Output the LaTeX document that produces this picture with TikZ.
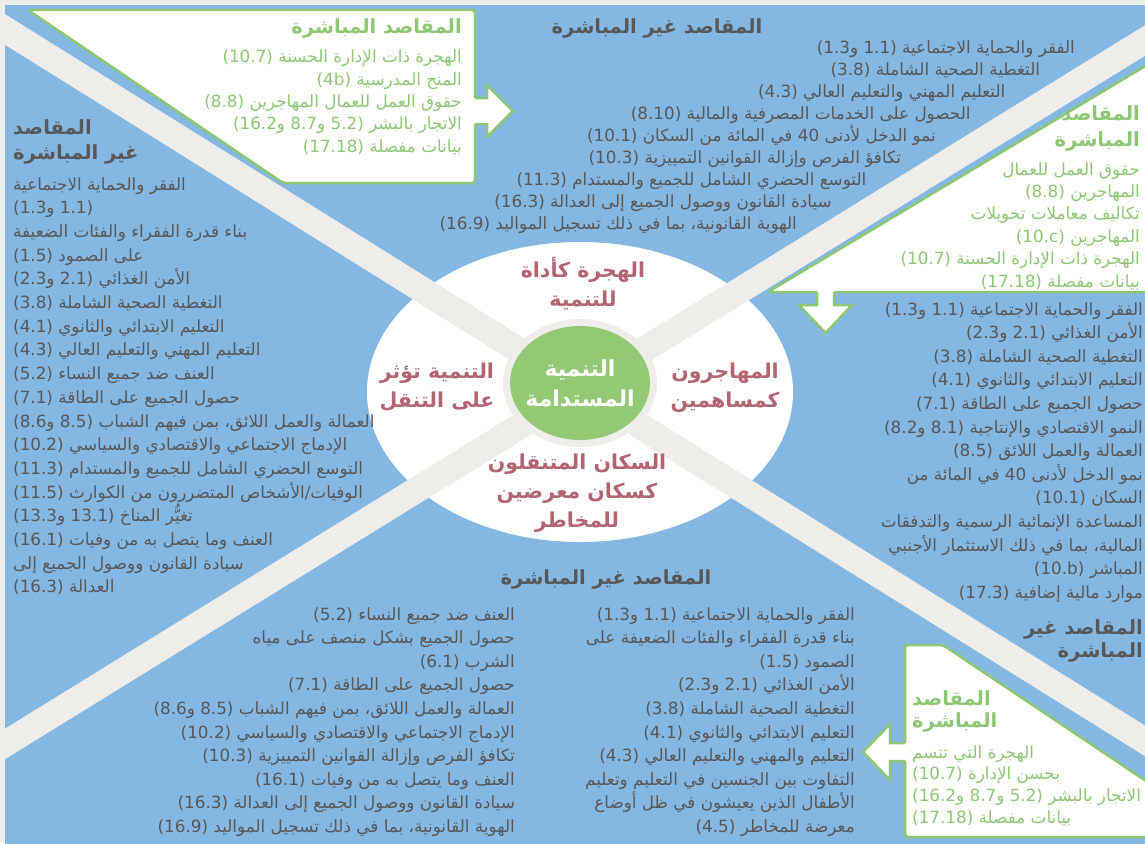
\documentclass[tikz,border=0pt]{standalone}
\usepackage{fontspec}
\TeXXeTstate=1
\newfontfamily\ar[Script=Arabic]{DejaVu Sans}
\newfontfamily\nf{DejaVu Sans}
\newcommand\NN[1]{\hbox{\beginL\nf #1\endL}}
\newcommand\PP[2]{\hbox{\beginL\nf(#2\hbox{\ar و} #1)\endL}}
\newcommand\PPP[3]{\hbox{\beginL\nf(#3\hbox{\ar و} #2\hbox{\ar و} #1)\endL}}
\definecolor{qblue}{RGB}{132,183,226}
\definecolor{band}{RGB}{238,237,233}
\definecolor{gline}{RGB}{141,199,115}
\definecolor{gtext}{RGB}{141,199,115}
\definecolor{gcirc}{RGB}{147,201,117}
\definecolor{dtext}{RGB}{88,88,88}
\definecolor{rose}{RGB}{178,100,112}
\tikzset{
  body/.style={font=\ar\fontsize{16.8}{19}\selectfont, text=dtext, inner sep=0pt},
  gbody/.style={body, text=gtext},
  ttl/.style={font=\ar\bfseries\fontsize{19.5}{22}\selectfont, text=dtext, inner sep=0pt},
  gttl/.style={ttl, text=gtext},
  lab/.style={font=\ar\bfseries\fontsize{20.5}{29}\selectfont, text=rose, inner sep=0pt, align=center},
  boxst/.style={fill=white, draw=gline, line width=2.5pt, rounded corners=3pt, line join=round},
  arrline/.style={draw=gline, line width=2.5pt, line join=miter},
  bandst/.style={draw=band, line width=26pt},
}
\begin{document}
\begin{tikzpicture}[x=1pt,y=-1pt]
\useasboundingbox (0,0) rectangle (1145,843);
% background
\fill[band] (0,0) rectangle (1145,843);
\fill[qblue] (5,5) rectangle (1150,850);
% central ellipse
\fill[white] (580,392) ellipse [x radius=213, y radius=150];
% bands
\draw[bandst] (-30,7.6) -- (1175,759.6);
\draw[bandst] (1175,22) -- (-30,765.5);
% core circle
\fill[band] (580,383) ellipse [x radius=77, y radius=64];
\fill[gcirc] (580,383) ellipse [x radius=70, y radius=57];

% box 1 (top left) with right arrow
\path[boxst] (28,10) -- (475,10) -- (475,183) -- (283,183) -- cycle;
\fill[white] (471,98) -- (487,98) -- (487,85) -- (513,111) -- (487,137) -- (487,124) -- (471,124) -- cycle;
\draw[arrline] (475,98) -- (487,98) -- (487,85) -- (513,111) -- (487,137) -- (487,124) -- (475,124);

% box 2 (top right) with down arrow
\path[boxst] (768,292) -- (1152,62) -- (1152,292) -- cycle;
\fill[white] (817,288) -- (817,305) -- (799,305) -- (825.5,333) -- (852,305) -- (834,305) -- (834,288) -- cycle;
\draw[arrline] (817,292) -- (817,305) -- (799,305) -- (825.5,333) -- (852,305) -- (834,305) -- (834,292);

% box 3 (bottom right) with left arrow
\path[boxst] (905,645) -- (943,645) -- (1152,785) -- (1152,837) -- (905,837) -- cycle;
\fill[white] (909,743) -- (890,743) -- (890,724) -- (863,752) -- (890,780) -- (890,761) -- (909,761) -- cycle;
\draw[arrline] (905,743) -- (890,743) -- (890,724) -- (863,752) -- (890,780) -- (890,761) -- (905,761);

% centre labels
\node[lab] (ltop) at (583,284) {\beginR الهجرة كأداة\endR\\\beginR للتنمية\endR};
\node[lab] (lleft) at (437,387) {\beginR التنمية تؤثر\endR\\\beginR على التنقل\endR};
\node[lab] (lright) at (725,388) {\beginR المهاجرون\endR\\\beginR كمساهمين\endR};
\node[lab] (lbot) at (577,493) {\beginR السكان المتنقلون\endR\\\beginR كسكان معرضين\endR\\\beginR للمخاطر\endR};
\node[lab, text=white, font=\ar\bfseries\fontsize{22}{30}\selectfont] (lcore) at (580,383) {\beginR التنمية\endR\\\beginR المستدامة\endR};

% titles
\node[gttl, anchor=base east] (b1t) at (462,34) {\beginR المقاصد المباشرة\endR};
\node[ttl, anchor=base] (tmt) at (657,34) {\beginR المقاصد غير المباشرة\endR};
\node[gttl, anchor=base east] (b2ta) at (1140,120) {\beginR المقاصد\endR};
\node[gttl, anchor=base east] (b2tb) at (1140,146) {\beginR المباشرة\endR};
\node[ttl, anchor=base west] (lta) at (13,134) {\beginR المقاصد\endR};
\node[ttl, anchor=base west] (ltb) at (13,159) {\beginR غير المباشرة\endR};
\node[ttl, anchor=base east] (brta) at (1143,634) {\beginR المقاصد غير\endR};
\node[ttl, anchor=base east] (brtb) at (1143,657) {\beginR المباشرة\endR};
\node[ttl, anchor=base] (bmt) at (606,584) {\beginR المقاصد غير المباشرة\endR};
\node[gttl, anchor=base west] (b3ta) at (912,705) {\beginR المقاصد\endR};
\node[gttl, anchor=base west] (b3tb) at (912,727) {\beginR المباشرة\endR};

% box 1 lines
\foreach \tx [count=\i] in {
  {الهجرة ذات الإدارة الحسنة \NN{(10.7)}},
  {المنح المدرسية \NN{(4b)}},
  {حقوق العمل للعمال المهاجرين \NN{(8.8)}},
  {الاتجار بالبشر \PPP{5.2}{8.7}{16.2}},
  {بيانات مفصلة \NN{(17.18)}}}
  {\node[gbody, anchor=base east] (bone\i) at (462,{63+(\i-1)*22.25}) {\beginR\tx\endR};}

% top middle lines (stepped along the band)
\foreach \tx [count=\i] in {
  {الفقر والحماية الاجتماعية \PP{1.1}{1.3}},
  {التغطية الصحية الشاملة \NN{(3.8)}},
  {التعليم المهني والتعليم العالي \NN{(4.3)}},
  {الحصول على الخدمات المصرفية والمالية \NN{(8.10)}},
  {نمو الدخل لأدنى 40 في المائة من السكان \NN{(10.1)}},
  {تكافؤ الفرص وإزالة القوانين التمييزية \NN{(10.3)}},
  {التوسع الحضري الشامل للجميع والمستدام \NN{(11.3)}},
  {سيادة القانون ووصول الجميع إلى العدالة \NN{(16.3)}},
  {الهوية القانونية، بما في ذلك تسجيل المواليد \NN{(16.9)}}}
  {\node[body, anchor=base east] (tm\i) at ({1075-(\i-1)*34.75},{53+(\i-1)*22.1}) {\beginR\tx\endR};}

% box 2 lines
\foreach \tx [count=\i] in {
  {حقوق العمل للعمال},
  {المهاجرين \NN{(8.8)}},
  {تكاليف معاملات تحويلات},
  {المهاجرين \NN{(10.c)}},
  {الهجرة ذات الإدارة الحسنة \NN{(10.7)}},
  {بيانات مفصلة \NN{(17.18)}}}
  {\node[gbody, anchor=base east] (btwo\i) at (1140,{175+(\i-1)*22.4}) {\beginR\tx\endR};}

% right list
\foreach \tx [count=\i] in {
  {الفقر والحماية الاجتماعية \PP{1.1}{1.3}},
  {الأمن الغذائي \PP{2.1}{2.3}},
  {التغطية الصحية الشاملة \NN{(3.8)}},
  {التعليم الابتدائي والثانوي \NN{(4.1)}},
  {حصول الجميع على الطاقة \NN{(7.1)}},
  {النمو الاقتصادي والإنتاجية \PP{8.1}{8.2}},
  {العمالة والعمل اللائق \NN{(8.5)}},
  {نمو الدخل لأدنى 40 في المائة من},
  {السكان \NN{(10.1)}},
  {المساعدة الإنمائية الرسمية والتدفقات},
  {المالية، بما في ذلك الاستثمار الأجنبي},
  {المباشر \NN{(10.b)}},
  {موارد مالية إضافية \NN{(17.3)}}}
  {\node[body, anchor=base east] (rl\i) at (1143,{315+(\i-1)*23.6}) {\beginR\tx\endR};}

% left list
\foreach \tx [count=\i] in {
  {الفقر والحماية الاجتماعية},
  {\PP{1.1}{1.3}},
  {بناء قدرة الفقراء والفئات الضعيفة},
  {على الصمود \NN{(1.5)}},
  {الأمن الغذائي \PP{2.1}{2.3}},
  {التغطية الصحية الشاملة \NN{(3.8)}},
  {التعليم الابتدائي والثانوي \NN{(4.1)}},
  {التعليم المهني والتعليم العالي \NN{(4.3)}},
  {العنف ضد جميع النساء \NN{(5.2)}},
  {حصول الجميع على الطاقة \NN{(7.1)}},
  {العمالة والعمل اللائق، بمن فيهم الشباب \PP{8.5}{8.6}},
  {الإدماج الاجتماعي والاقتصادي والسياسي \NN{(10.2)}},
  {التوسع الحضري الشامل للجميع والمستدام \NN{(11.3)}},
  {الوفيات/الأشخاص المتضررون من الكوارث \NN{(11.5)}},
  {تغيُّر المناخ \PP{13.1}{13.3}},
  {العنف وما يتصل به من وفيات \NN{(16.1)}},
  {سيادة القانون ووصول الجميع إلى},
  {العدالة \NN{(16.3)}}}
  {\node[body, anchor=base west] (ll\i) at (13,{190+(\i-1)*23.7}) {\beginR\tx\endR};}

% bottom middle, right column
\foreach \tx [count=\i] in {
  {الفقر والحماية الاجتماعية \PP{1.1}{1.3}},
  {بناء قدرة الفقراء والفئات الضعيفة على},
  {الصمود \NN{(1.5)}},
  {الأمن الغذائي \PP{2.1}{2.3}},
  {التغطية الصحية الشاملة \NN{(3.8)}},
  {التعليم الابتدائي والثانوي \NN{(4.1)}},
  {التعليم والمهني والتعليم العالي \NN{(4.3)}},
  {التفاوت بين الجنسين في التعليم وتعليم},
  {الأطفال الذين يعيشون في ظل أوضاع},
  {معرضة للمخاطر \NN{(4.5)}}}
  {\node[body, anchor=base east] (bmr\i) at (855,{620+(\i-1)*23.6}) {\beginR\tx\endR};}

% bottom middle, left column
\foreach \tx [count=\i] in {
  {العنف ضد جميع النساء \NN{(5.2)}},
  {حصول الجميع بشكل منصف على مياه},
  {الشرب \NN{(6.1)}},
  {حصول الجميع على الطاقة \NN{(7.1)}},
  {العمالة والعمل اللائق، بمن فيهم الشباب \PP{8.5}{8.6}},
  {الإدماج الاجتماعي والاقتصادي والسياسي \NN{(10.2)}},
  {تكافؤ الفرص وإزالة القوانين التمييزية \NN{(10.3)}},
  {العنف وما يتصل به من وفيات \NN{(16.1)}},
  {سيادة القانون ووصول الجميع إلى العدالة \NN{(16.3)}},
  {الهوية القانونية، بما في ذلك تسجيل المواليد \NN{(16.9)}}}
  {\node[body, anchor=base east] (bml\i) at (515,{620+(\i-1)*23.6}) {\beginR\tx\endR};}

% box 3 lines
\foreach \tx [count=\i] in {
  {الهجرة التي تتسم},
  {بحسن الإدارة \NN{(10.7)}},
  {الاتجار بالبشر \PPP{5.2}{8.7}{16.2}},
  {بيانات مفصلة \NN{(17.18)}}}
  {\node[gbody, anchor=base west] (bthree\i) at (912,{758+(\i-1)*21.7}) {\beginR\tx\endR};}
\end{tikzpicture}
\end{document}
